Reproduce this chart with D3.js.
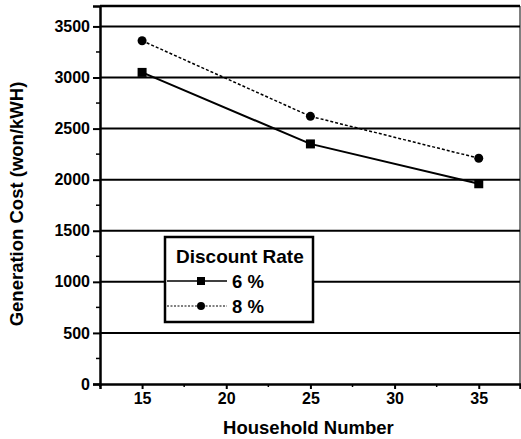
<!DOCTYPE html>
<html>
<head>
<meta charset="utf-8">
<script src="https://cdn.jsdelivr.net/npm/d3@7"></script>
<style>
  html, body { margin: 0; padding: 0; background: #fff; }
  svg { display: block; font-family: "Liberation Sans", Arial, sans-serif; }
</style>
</head>
<body>
<div id="chart"></div>
<script>
// Household counts on the x axis
const households = [15, 25, 35];
// Generation cost (won/kWH) for each discount rate
const cost6 = [3050, 2350, 1960];
const cost8 = [3360, 2620, 2210];
const seriesNames = ["6 %", "8 %"];
const legendTitle = "Discount Rate";
const yTicks = [0, 500, 1000, 1500, 2000, 2500, 3000, 3500];
const xTicks = [15, 20, 25, 30, 35];

const W = 521, H = 439;
const margin = { top: 6, right: 1, bottom: 55, left: 100 };
const iw = W - margin.left - margin.right;
const ih = H - margin.top - margin.bottom;

const svg = d3.select("#chart").append("svg")
  .attr("width", W).attr("height", H);

const g = svg.append("g").attr("transform", `translate(${margin.left},${margin.top})`);

const x = d3.scaleLinear().domain([12.5, 37.45]).range([0, iw]);
const y = d3.scaleLinear().domain([0, 3700]).range([ih, 0]);

// horizontal grid at each labelled value
g.append("g").selectAll("line").data(yTicks.filter(d => d > 0)).join("line")
  .attr("x1", 0).attr("x2", iw)
  .attr("y1", d => y(d)).attr("y2", d => y(d))
  .attr("stroke", "#000").attr("stroke-width", 2);

// frame: top and right edges
g.append("line").attr("x1", 0).attr("x2", iw).attr("y1", 0).attr("y2", 0)
  .attr("stroke", "#000").attr("stroke-width", 2.5);
g.append("line").attr("x1", iw).attr("x2", iw).attr("y1", 0).attr("y2", ih)
  .attr("stroke", "#000").attr("stroke-width", 1);

// y axis with minor ticks
const yMinor = d3.range(250, 3700, 500);
g.append("g").selectAll("line").data(yMinor).join("line")
  .attr("x1", -4).attr("x2", 0).attr("y1", d => y(d)).attr("y2", d => y(d))
  .attr("stroke", "#000").attr("stroke-width", 1.5);
const yAxis = g.append("g")
  .call(d3.axisLeft(y).tickValues(yTicks).tickSize(7).tickPadding(3).tickFormat(d3.format("d")));
yAxis.select(".domain").attr("stroke-width", 2.5);
yAxis.selectAll(".tick line").attr("stroke-width", 2);
yAxis.selectAll("text").attr("font-size", 16).attr("font-weight", "bold").attr("fill", "#000");

// x axis with minor ticks
const xMinor = d3.range(12.5, 37.5, 2.5).filter(d => !xTicks.includes(d));
g.append("g").selectAll("line").data(xMinor).join("line")
  .attr("x1", d => x(d)).attr("x2", d => x(d)).attr("y1", ih).attr("y2", ih + 3)
  .attr("stroke", "#000").attr("stroke-width", 1.5);
const xAxis = g.append("g").attr("transform", `translate(0,${ih})`)
  .call(d3.axisBottom(x).tickValues(xTicks).tickSize(5).tickPadding(4).tickFormat(d3.format("d")));
xAxis.select(".domain").attr("stroke-width", 2.5);
xAxis.selectAll(".tick line").attr("stroke-width", 2);
xAxis.selectAll("text").attr("font-size", 16).attr("font-weight", "bold").attr("fill", "#000");

// axis titles
svg.append("text")
  .attr("x", margin.left + x(25) - 2).attr("y", 434)
  .attr("text-anchor", "middle").attr("font-size", 18.5).attr("font-weight", "bold")
  .text("Household Number");
svg.append("text")
  .attr("transform", `translate(23,204) rotate(-90)`)
  .attr("text-anchor", "middle").attr("font-size", 18.5).attr("font-weight", "bold")
  .text("Generation Cost (won/kWH)");

// series
const line = d3.line().x(d => x(d[0])).y(d => y(d[1]));
const s6 = households.map((h, i) => [h, cost6[i]]);
const s8 = households.map((h, i) => [h, cost8[i]]);

g.append("path").datum(s8).attr("d", line)
  .attr("fill", "none").attr("stroke", "#000").attr("stroke-width", 1.5)
  .attr("stroke-dasharray", "3,2");
g.append("path").datum(s6).attr("d", line)
  .attr("fill", "none").attr("stroke", "#000").attr("stroke-width", 2);

g.append("g").selectAll("rect").data(s6).join("rect")
  .attr("x", d => x(d[0]) - 4.5).attr("y", d => y(d[1]) - 4.5)
  .attr("width", 9).attr("height", 9).attr("fill", "#000");
g.append("g").selectAll("circle").data(s8).join("circle")
  .attr("cx", d => x(d[0])).attr("cy", d => y(d[1])).attr("r", 4.5).attr("fill", "#000");

// legend
const lg = svg.append("g").attr("transform", "translate(165,237)");
lg.append("rect").attr("width", 148).attr("height", 85)
  .attr("fill", "#fff").attr("stroke", "#000").attr("stroke-width", 2.5);
lg.append("text").attr("x", 11).attr("y", 26)
  .attr("font-size", 19).attr("font-weight", "bold").text(legendTitle);
const rows = [
  { name: seriesNames[0], dash: null, w: 1.5, shape: "square", dy: 44 },
  { name: seriesNames[1], dash: "2,1.5", w: 1, shape: "circle", dy: 69 }
];
rows.forEach(r => {
  lg.append("line").attr("x1", 2).attr("x2", 62).attr("y1", r.dy).attr("y2", r.dy)
    .attr("stroke", "#000").attr("stroke-width", r.w)
    .attr("stroke-dasharray", r.dash);
  if (r.shape === "square") {
    lg.append("rect").attr("x", 36 - 4).attr("y", r.dy - 4).attr("width", 8).attr("height", 8).attr("fill", "#000");
  } else {
    lg.append("circle").attr("cx", 36).attr("cy", r.dy).attr("r", 4).attr("fill", "#000");
  }
  lg.append("text").attr("x", 67).attr("y", r.dy + 7)
    .attr("font-size", 18.5).attr("font-weight", "bold").text(r.name);
});
</script>
</body>
</html>
